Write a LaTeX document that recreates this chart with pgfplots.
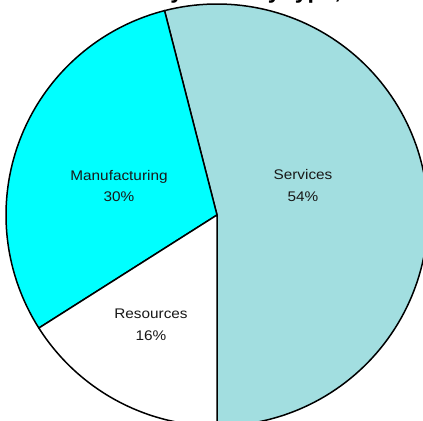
\documentclass[border=0pt]{standalone}
\usepackage{pgfplots}
\pgfplotsset{compat=1.18}
\usepackage{fontspec}
\setmainfont{Liberation Sans}
\newfontfamily\labfont[FakeStretch=1.1]{Liberation Sans}
\definecolor{svc}{RGB}{162,222,224}
\definecolor{mfg}{RGB}{0,255,255}
\begin{document}
\begin{tikzpicture}
% shares (percent)
\def\pServices{54}
\def\pManufacturing{30}
\def\pResources{16}
\pgfmathsetmacro{\aA}{-90}
\pgfmathsetmacro{\aB}{\aA+3.6*\pServices}
\pgfmathsetmacro{\aC}{\aB+3.6*\pManufacturing}
\pgfmathsetmacro{\aD}{\aC+3.6*\pResources}
\def\cx{217}\def\cy{206}\def\R{211}
\begin{axis}[width=423bp, height=421bp, scale only axis, hide axis,
  xmin=0, xmax=423, ymin=0, ymax=421, clip=true]
\addplot[fill=svc, draw=black, line width=1.5bp, domain=\aA:\aB, samples=120, line join=round]
  ({\cx+\R*cos(x)}, {\cy+\R*sin(x)}) -- (\cx,\cy) -- cycle;
\addplot[fill=mfg, draw=black, line width=1.5bp, domain=\aB:\aC, samples=80, line join=round]
  ({\cx+\R*cos(x)}, {\cy+\R*sin(x)}) -- (\cx,\cy) -- cycle;
\addplot[fill=white, draw=black, line width=1.5bp, domain=\aC:\aD, samples=50, line join=round]
  ({\cx+\R*cos(x)}, {\cy+\R*sin(x)}) -- (\cx,\cy) -- cycle;
\begin{scope}[font=\labfont\fontsize{14}{16}\selectfont, text=black!90]
\node[anchor=base] at (119,240.5) {Manufacturing};
\node[anchor=base] at (119,219.5) {30\%};
\node[anchor=base] at (303,241) {Services};
\node[anchor=base] at (303,219.5) {54\%};
\node[anchor=base] at (151,102) {Resources};
\node[anchor=base] at (151,80) {16\%};
\end{scope}
\node[anchor=base west, font=\fontsize{23.2}{28}\selectfont\bfseries, inner sep=0pt] at (156,422.5) {by industry type, 2021};
\node[anchor=base east, font=\fontsize{23.2}{28}\selectfont\bfseries, inner sep=0pt] at (149.5,422.5) {Businesses};
\end{axis}
\pgfresetboundingbox
\useasboundingbox (current axis.south west) rectangle (current axis.north east);
\end{tikzpicture}
\end{document}
